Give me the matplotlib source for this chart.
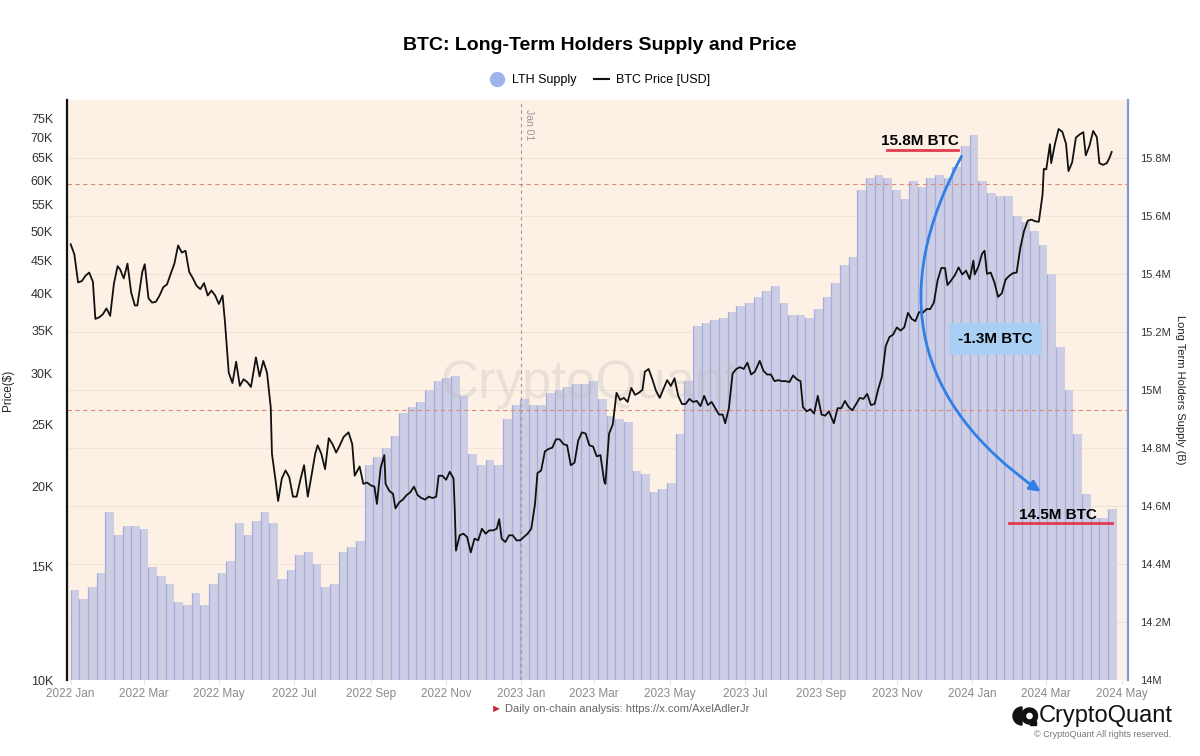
import matplotlib
matplotlib.use("Agg")
import matplotlib.pyplot as plt
import matplotlib.dates as mdates
import matplotlib.patches as mpatches
from matplotlib.lines import Line2D
import pandas as pd

plt.rcParams['font.family'] = ['Liberation Sans', 'DejaVu Sans']

# LTH supply, weekly, in millions of BTC (from 2022-01-01)
lth_supply = [
    14.31, 14.28, 14.32, 14.37, 14.58, 14.50, 14.53, 14.53, 14.52, 14.39,
    14.36, 14.33, 14.27, 14.26, 14.30, 14.26, 14.33, 14.37, 14.41, 14.54,
    14.50, 14.55, 14.58, 14.54, 14.35, 14.38, 14.43, 14.44, 14.40, 14.32,
    14.33, 14.44, 14.46, 14.48, 14.74, 14.77, 14.80, 14.84, 14.92, 14.94,
    14.96, 15.00, 15.03, 15.04, 15.05, 14.98, 14.78, 14.74, 14.76, 14.74,
    14.90, 14.95, 14.97, 14.95, 14.95, 14.99, 15.00, 15.01, 15.02, 15.02,
    15.03, 14.97, 14.91, 14.90, 14.89, 14.72, 14.71, 14.65, 14.66, 14.68,
    14.85, 15.03, 15.22, 15.23, 15.24, 15.25, 15.27, 15.29, 15.30, 15.32,
    15.34, 15.36, 15.30, 15.26, 15.26, 15.25, 15.28, 15.32, 15.37, 15.43,
    15.46, 15.69, 15.73, 15.74, 15.73, 15.69, 15.66, 15.72, 15.70, 15.73,
    15.74, 15.73, 15.77, 15.84, 15.88, 15.72, 15.68, 15.67, 15.67, 15.60,
    15.58, 15.55, 15.50, 15.40, 15.15, 15.00, 14.85, 14.64, 14.56, 14.56,
    14.59,
]

price_dates = [
    '2022-01-01', '2022-01-04', '2022-01-07', '2022-01-10', '2022-01-13', '2022-01-16', '2022-01-19', '2022-01-21',
    '2022-01-24', '2022-01-27', '2022-01-30', '2022-02-02', '2022-02-05', '2022-02-08', '2022-02-10', '2022-02-13',
    '2022-02-16', '2022-02-19', '2022-02-22', '2022-02-24', '2022-02-28', '2022-03-02', '2022-03-05', '2022-03-08',
    '2022-03-11', '2022-03-14', '2022-03-17', '2022-03-20', '2022-03-23', '2022-03-26', '2022-03-29', '2022-04-01',
    '2022-04-04', '2022-04-07', '2022-04-10', '2022-04-13', '2022-04-16', '2022-04-19', '2022-04-22', '2022-04-25',
    '2022-04-28', '2022-05-01', '2022-05-04', '2022-05-06', '2022-05-09', '2022-05-12', '2022-05-15', '2022-05-18',
    '2022-05-21', '2022-05-24', '2022-05-27', '2022-05-31', '2022-06-03', '2022-06-06', '2022-06-09', '2022-06-12',
    '2022-06-13', '2022-06-16', '2022-06-18', '2022-06-21', '2022-06-24', '2022-06-27', '2022-06-30', '2022-07-03',
    '2022-07-06', '2022-07-09', '2022-07-12', '2022-07-15', '2022-07-18', '2022-07-20', '2022-07-23', '2022-07-26',
    '2022-07-29', '2022-08-01', '2022-08-04', '2022-08-07', '2022-08-10', '2022-08-14', '2022-08-17', '2022-08-19',
    '2022-08-23', '2022-08-26', '2022-08-29', '2022-09-01', '2022-09-04', '2022-09-06', '2022-09-09', '2022-09-12',
    '2022-09-13', '2022-09-16', '2022-09-19', '2022-09-21', '2022-09-24', '2022-09-27', '2022-09-30', '2022-10-03',
    '2022-10-06', '2022-10-09', '2022-10-12', '2022-10-15', '2022-10-18', '2022-10-21', '2022-10-24', '2022-10-26',
    '2022-10-29', '2022-11-01', '2022-11-04', '2022-11-07', '2022-11-08', '2022-11-09', '2022-11-12', '2022-11-15',
    '2022-11-18', '2022-11-21', '2022-11-24', '2022-11-27', '2022-11-30', '2022-12-03', '2022-12-06', '2022-12-09',
    '2022-12-12', '2022-12-14', '2022-12-16', '2022-12-19', '2022-12-22', '2022-12-25', '2022-12-28', '2022-12-31',
    '2023-01-03', '2023-01-06', '2023-01-09', '2023-01-12', '2023-01-14', '2023-01-17', '2023-01-20', '2023-01-23',
    '2023-01-26', '2023-01-29', '2023-02-01', '2023-02-04', '2023-02-07', '2023-02-10', '2023-02-13', '2023-02-16',
    '2023-02-19', '2023-02-22', '2023-02-25', '2023-02-28', '2023-03-03', '2023-03-06', '2023-03-09', '2023-03-10',
    '2023-03-13', '2023-03-16', '2023-03-19', '2023-03-22', '2023-03-25', '2023-03-28', '2023-03-31', '2023-04-03',
    '2023-04-06', '2023-04-09', '2023-04-11', '2023-04-14', '2023-04-17', '2023-04-20', '2023-04-23', '2023-04-26',
    '2023-04-29', '2023-05-02', '2023-05-05', '2023-05-08', '2023-05-11', '2023-05-14', '2023-05-17', '2023-05-20',
    '2023-05-23', '2023-05-26', '2023-05-29', '2023-06-01', '2023-06-04', '2023-06-07', '2023-06-10', '2023-06-13',
    '2023-06-15', '2023-06-18', '2023-06-21', '2023-06-24', '2023-06-27', '2023-06-30', '2023-07-03', '2023-07-06',
    '2023-07-09', '2023-07-13', '2023-07-16', '2023-07-19', '2023-07-22', '2023-07-25', '2023-07-28', '2023-07-31',
    '2023-08-03', '2023-08-06', '2023-08-09', '2023-08-12', '2023-08-15', '2023-08-17', '2023-08-20', '2023-08-23',
    '2023-08-26', '2023-08-29', '2023-09-01', '2023-09-04', '2023-09-07', '2023-09-11', '2023-09-14', '2023-09-17',
    '2023-09-20', '2023-09-23', '2023-09-26', '2023-09-29', '2023-10-02', '2023-10-05', '2023-10-08', '2023-10-11',
    '2023-10-14', '2023-10-17', '2023-10-20', '2023-10-23', '2023-10-26', '2023-10-29', '2023-11-01', '2023-11-04',
    '2023-11-07', '2023-11-10', '2023-11-13', '2023-11-16', '2023-11-19', '2023-11-22', '2023-11-25', '2023-11-28',
    '2023-12-01', '2023-12-04', '2023-12-07', '2023-12-10', '2023-12-12', '2023-12-15', '2023-12-18', '2023-12-21',
    '2023-12-24', '2023-12-27', '2023-12-30', '2024-01-02', '2024-01-03', '2024-01-06', '2024-01-09', '2024-01-11',
    '2024-01-13', '2024-01-16', '2024-01-19', '2024-01-22', '2024-01-25', '2024-01-28', '2024-01-31', '2024-02-03',
    '2024-02-06', '2024-02-09', '2024-02-12', '2024-02-15', '2024-02-18', '2024-02-21', '2024-02-24', '2024-02-27',
    '2024-02-28', '2024-03-01', '2024-03-04', '2024-03-05', '2024-03-08', '2024-03-11', '2024-03-14', '2024-03-17',
    '2024-03-19', '2024-03-22', '2024-03-25', '2024-03-28', '2024-03-31', '2024-04-02', '2024-04-05', '2024-04-08',
    '2024-04-11', '2024-04-13', '2024-04-16', '2024-04-19', '2024-04-21', '2024-04-23',
]
price_k = [
    47.7, 46.0, 41.6, 41.8, 42.6, 43.1, 41.7, 36.5, 36.7, 37.1, 37.9, 36.9, 41.4, 44.1, 43.6, 42.2,
    44.5, 40.1, 38.3, 38.3, 43.2, 44.4, 39.3, 38.7, 38.8, 39.7, 40.9, 41.3, 42.9, 44.5, 47.5, 46.3,
    46.6, 43.2, 42.2, 41.1, 40.6, 41.5, 39.7, 40.4, 39.7, 38.5, 39.7, 36.0, 30.1, 29.0, 31.3, 28.7,
    29.4, 29.1, 28.6, 31.8, 29.7, 31.4, 30.1, 26.6, 22.5, 20.4, 19.0, 20.6, 21.2, 20.7, 19.3, 19.3,
    20.5, 21.6, 19.3, 20.8, 22.5, 23.2, 22.5, 21.3, 23.8, 23.3, 22.6, 23.2, 23.9, 24.3, 23.3, 20.8,
    21.5, 20.2, 20.3, 20.1, 20.0, 18.8, 21.4, 22.4, 20.2, 19.7, 19.5, 18.5, 18.9, 19.1, 19.4, 19.6,
    20.0, 19.4, 19.2, 19.1, 19.3, 19.2, 19.3, 20.8, 20.8, 20.5, 21.1, 20.6, 18.5, 15.9, 16.8, 16.9,
    16.7, 15.8, 16.6, 16.5, 17.2, 16.9, 17.1, 17.1, 17.2, 17.8, 16.6, 16.4, 16.8, 16.8, 16.5, 16.5,
    16.7, 16.9, 17.2, 18.8, 21.0, 21.2, 22.7, 22.9, 23.0, 23.7, 23.7, 23.3, 23.2, 21.6, 21.8, 23.6,
    24.3, 24.2, 23.2, 23.1, 22.3, 22.4, 20.4, 20.2, 24.2, 25.0, 28.0, 27.3, 27.5, 27.1, 28.5, 27.8,
    28.0, 28.3, 30.2, 30.5, 29.4, 28.2, 27.5, 28.4, 29.3, 28.7, 29.5, 27.7, 26.9, 26.9, 27.4, 27.1,
    27.2, 26.7, 27.7, 26.8, 27.1, 26.5, 25.9, 25.9, 25.1, 26.5, 30.0, 30.5, 30.7, 30.5, 31.2, 29.9,
    30.2, 31.4, 30.3, 29.9, 29.9, 29.2, 29.3, 29.2, 29.2, 29.1, 29.8, 29.4, 29.2, 26.6, 26.2, 26.4,
    26.0, 27.7, 25.9, 25.8, 26.2, 25.1, 26.5, 26.5, 27.2, 26.6, 26.3, 26.9, 27.5, 27.4, 27.9, 26.8,
    26.9, 28.4, 29.7, 33.1, 34.2, 34.5, 35.4, 35.0, 35.4, 37.3, 36.5, 36.2, 37.4, 37.3, 37.8, 37.8,
    38.7, 41.9, 43.8, 43.8, 41.2, 41.9, 42.7, 43.9, 42.8, 43.4, 42.1, 45.0, 42.8, 44.0, 46.1, 46.6,
    42.9, 43.1, 41.6, 39.5, 40.0, 42.0, 42.6, 43.0, 43.1, 47.1, 50.0, 51.9, 52.1, 51.8, 51.7, 57.0,
    62.5, 62.4, 68.3, 63.8, 68.3, 72.1, 71.4, 68.4, 62.0, 64.0, 69.9, 70.7, 71.3, 65.6, 67.9, 71.6,
    70.0, 63.8, 63.4, 63.8, 64.9, 66.4,
]

price_ticks_k = [10, 15, 20, 25, 30, 35, 40, 45, 50, 55, 60, 65, 70, 75]
supply_ticks = [14.0, 14.2, 14.4, 14.6, 14.8, 15.0, 15.2, 15.4, 15.6, 15.8]
ref_levels = [15.71, 14.93]

week_dates = pd.date_range('2022-01-01', periods=len(lth_supply), freq='7D')
pdates = pd.to_datetime(price_dates)
prices = [p * 1000 for p in price_k]

fig = plt.figure(figsize=(12, 7.56), dpi=100)
ax = fig.add_axes([0.0558, 0.1005, 0.884, 0.7672])
ax2 = ax.twinx()

# supply axis sits behind, carries the background
ax.set_zorder(ax2.get_zorder() + 1)
ax.patch.set_visible(False)
ax2.patch.set_visible(True)
ax2.set_facecolor('#fdf1e6')

ax2.grid(axis='y', color='#f4e3d4', lw=0.8)
ax2.set_axisbelow(True)
ax2.bar(week_dates, lth_supply, width=7, align='edge', color='#cdcde4', lw=0, zorder=2)
ax2.vlines(week_dates, 14, lth_supply, color='#a5abdc', lw=0.9, zorder=3)
for lvl in ref_levels:
    ax2.axhline(lvl, color='#d98a78', lw=0.8, ls=(0, (4, 3)), zorder=4)

ax.plot(pdates, prices, color='#111111', lw=1.3, zorder=5)

ax.set_yscale('log')
ax.set_ylim(10000, 80000)
ax.set_yticks([t * 1000 for t in price_ticks_k])
ax.set_yticklabels([f'{t}K' for t in price_ticks_k])
ax.yaxis.set_minor_locator(matplotlib.ticker.NullLocator())
ax2.set_ylim(14, 16)
ax2.set_yticks(supply_ticks)
ax2.set_yticklabels([(f'{t:g}M') for t in supply_ticks])

ax.set_xlim(pd.Timestamp('2021-12-29'), pd.Timestamp('2024-05-06'))
ax.xaxis.set_major_locator(mdates.MonthLocator(bymonth=[1, 3, 5, 7, 9, 11]))
ax.xaxis.set_major_formatter(mdates.DateFormatter('%Y %b'))

ax.tick_params(axis='y', labelsize=9, colors='#333333', length=0, pad=10)
ax2.tick_params(axis='y', labelsize=8, colors='#333333', length=0, pad=9)
ax.tick_params(axis='x', labelsize=8.5, labelcolor='#8a8a8a', color='#dddddd', length=3, pad=3)

for s in ['top', 'bottom', 'right']:
    ax.spines[s].set_visible(False)
ax2.spines['top'].set_visible(False)
ax2.spines['bottom'].set_visible(False)
ax2.spines['left'].set_visible(False)
ax.spines['left'].set_color('#111111')
ax.spines['left'].set_linewidth(1.6)
ax2.spines['right'].set_color('#7e9ad6')
ax2.spines['right'].set_linewidth(1.6)

ax.set_ylabel('Price($)', fontsize=8.5, color='#222222', labelpad=12)
ax2.set_ylabel('Long Term Holders Supply (B)', fontsize=8, color='#222222', rotation=270, labelpad=10)

# Jan 01 marker
ax.axvline(pd.Timestamp('2023-01-01'), color='#999999', lw=0.8, ls=(0, (3, 3)), zorder=4)
ax.text(pd.Timestamp('2023-01-03'), 0.985, 'Jan 01', transform=ax.get_xaxis_transform(),
        rotation=270, fontsize=7.5, color='#999999', va='top', ha='left')

# watermark
ax.text(0.493, 0.51, 'CryptoQuant', transform=ax.transAxes, fontsize=38, color='#bbbbbb',
        alpha=0.3, ha='center', va='center', zorder=1)

# annotations
ax.text(0.804, 0.929, '15.8M BTC', transform=ax.transAxes, fontsize=11, weight='bold',
        ha='center', va='center', zorder=7)
ax.plot([0.773, 0.840], [0.914, 0.914], transform=ax.transAxes, color='#e23b52', lw=2, zorder=7)
ax.text(0.934, 0.284, '14.5M BTC', transform=ax.transAxes, fontsize=11, weight='bold',
        ha='center', va='center', zorder=7)
ax.plot([0.888, 0.985], [0.271, 0.271], transform=ax.transAxes, color='#e23b52', lw=2, zorder=7)
ax.text(0.875, 0.588, '-1.3M BTC', transform=ax.transAxes, fontsize=11, weight='bold',
        ha='center', va='center', zorder=7,
        bbox=dict(boxstyle='square,pad=0.6', fc='#a9d0f4', ec='none'))
arrow = mpatches.FancyArrowPatch((0.8445, 0.907), (0.920, 0.322), transform=ax.transAxes,
                                 connectionstyle='arc3,rad=0.45', arrowstyle='-|>',
                                 mutation_scale=16, color='#2f80e6', lw=2, zorder=8)
ax.add_patch(arrow)

# title and legend
fig.text(0.5, 0.94, 'BTC: Long-Term Holders Supply and Price', ha='center', va='center',
         fontsize=14, weight='bold')
handles = [Line2D([], [], marker='o', ls='none', markersize=10, color='#9fb4ea'),
           Line2D([], [], color='#111111', lw=1.5)]
fig.legend(handles, ['LTH Supply', 'BTC Price [USD]'], loc='center', bbox_to_anchor=(0.5, 0.894),
           ncol=2, frameon=False, fontsize=9, handlelength=1.2, handletextpad=0.6,
           columnspacing=1.4)

# footer
fig.text(0.414, 0.0625, '\u25ba', color='#c0282d', fontsize=8, ha='center', va='center')
fig.text(0.421, 0.0625, 'Daily on-chain analysis: https://x.com/AxelAdlerJr', color='#666666',
         fontsize=8, ha='left', va='center')
fig.text(0.977, 0.053, 'CryptoQuant', fontsize=17, color='#111111', ha='right', va='center')
fig.text(0.976, 0.028, '\u00a9 CryptoQuant All rights reserved.', fontsize=6.5, color='#777777',
         ha='right', va='center')
fig.add_artist(mpatches.Wedge((10.22, 0.40), 0.09, 90, 270, color='#111111',
                              transform=fig.dpi_scale_trans))
fig.add_artist(mpatches.Wedge((10.295, 0.40), 0.08, 0, 360, width=0.04, color='#111111',
                              transform=fig.dpi_scale_trans))
fig.add_artist(mpatches.Rectangle((10.30, 0.31), 0.06, 0.04, color='#111111',
                                  transform=fig.dpi_scale_trans))

fig.savefig('out.png', dpi=100, facecolor='white')
